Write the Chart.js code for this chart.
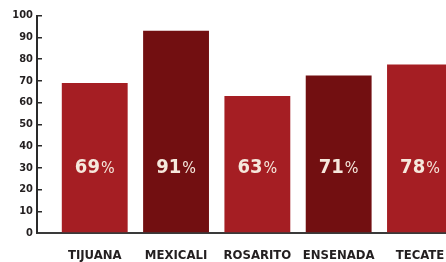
<!DOCTYPE html>
<html>
<head>
<meta charset="utf-8">
<script src="https://cdn.jsdelivr.net/npm/chart.js@4/dist/chart.umd.min.js"></script>
<style>
  body { margin: 0; background: #fff; }
  #wrap { width: 446px; height: 262px; overflow: hidden; }
</style>
</head>
<body>
<div id="wrap"><canvas id="myChart" width="446" height="262"></canvas></div>
<script>
// Datos
var ciudades = ['TIJUANA', 'MEXICALI', 'ROSARITO', 'ENSENADA', 'TECATE'];
var alturas = [69, 93, 63, 72.5, 77.5];
var porcentajes = ['69', '91', '63', '71', '78'];
var colores = ['#a51e23', '#720f11', '#a51e23', '#720f11', '#a51e23'];

var nivelEtiqueta = 30;

// Buscar una fuente angosta instalada
function hayFuente(nombre) {
    var c = document.createElement('canvas').getContext('2d');
    c.font = '30px monospace';
    var a = c.measureText('TIJUANA MEXICALI 0123').width;
    c.font = "30px '" + nombre + "', monospace";
    var b = c.measureText('TIJUANA MEXICALI 0123').width;
    return a !== b;
}
var fuente = 'Roboto, sans-serif';
var angosta = false;
['Liberation Sans Narrow', 'DejaVu Sans Condensed', 'Roboto Condensed', 'Arial Narrow'].some(function (f) {
    if (hayFuente(f)) { fuente = "'" + f + "', sans-serif"; angosta = true; return true; }
    return false;
});
var tamX = angosta ? 13 : 12;
var tamY = angosta ? 11 : 10;

// Etiquetas dentro de las barras
var etiquetasPlugin = {
    id: 'etiquetas',
    afterDatasetsDraw: function (chart) {
        var c = chart.ctx;
        var meta = chart.getDatasetMeta(0);
        var y = chart.scales.y.getPixelForValue(nivelEtiqueta);
        var k = angosta ? 1 : 0.8;
        c.save();
        c.fillStyle = '#f6e8dc';
        c.textBaseline = 'middle';
        c.textAlign = 'left';
        meta.data.forEach(function (bar, i) {
            c.font = 'bold 20px ' + fuente;
            var w1 = c.measureText(porcentajes[i]).width;
            c.font = '16px ' + fuente;
            var w2 = c.measureText('%').width;
            var total = (w1 + w2 + 1) * k;
            c.save();
            c.translate(bar.x - total / 2, y);
            c.scale(k, 1);
            c.font = 'bold 20px ' + fuente;
            c.fillText(porcentajes[i], 0, 0);
            c.font = '16px ' + fuente;
            c.fillText('%', w1 + 1, 1);
            c.restore();
        });
        c.restore();
    }
};

var ctx = document.getElementById('myChart').getContext('2d');

var config = {
    type: 'bar',
    data: {
        datasets: [{
            data: alturas.map(function (v, i) { return { x: i, y: v }; }),
            backgroundColor: colores,
            borderWidth: 0,
            categoryPercentage: 1,
            barPercentage: 0.81
        }]
    },
    options: {
        responsive: false,
        animation: false,
        events: [],
        layout: { padding: { top: 15.5, left: 0, right: 0, bottom: 0 } },
        plugins: { legend: { display: false }, tooltip: { enabled: false } },
        scales: {
            x: {
                type: 'linear',
                offset: false,
                min: -0.71,
                max: 4.32,
                grid: { display: false, drawTicks: false, offset: false },
                border: { display: true, color: '#3a3a3a', width: 2 },
                afterBuildTicks: function (s) {
                    s.ticks = ciudades.map(function (c, i) { return { value: i }; });
                },
                afterFit: function (s) {
                    s.height = 29;
                    s.paddingLeft = 0;
                    s.paddingRight = 0;
                },
                ticks: {
                    autoSkip: false,
                    maxRotation: 0,
                    padding: 15,
                    color: '#231f20',
                    font: { family: fuente, size: tamX, weight: 'bold' },
                    callback: function (v) { return ciudades[v]; }
                }
            },
            y: {
                min: 0,
                max: 100,
                grid: { drawOnChartArea: false, tickLength: -5, color: '#2a2a2a', lineWidth: 1.5 },
                border: { display: true, color: '#2a2a2a', width: 2 },
                afterFit: function (s) { s.width = 37; },
                ticks: {
                    stepSize: 10,
                    padding: 9,
                    color: '#231f20',
                    font: { family: fuente, size: tamY, weight: 'bold' }
                }
            }
        }
    },
    plugins: [etiquetasPlugin]
};

var myChart = new Chart(ctx, config);
</script>
</body>
</html>
